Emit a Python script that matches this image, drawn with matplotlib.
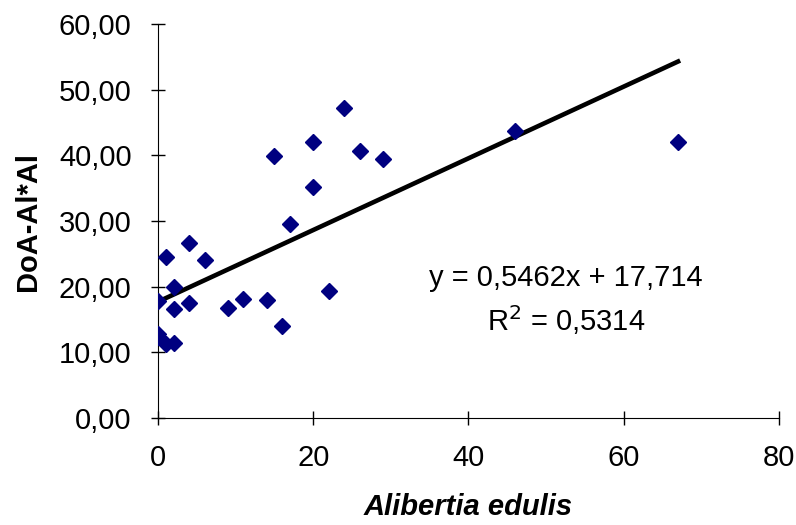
import matplotlib
matplotlib.use('Agg')
import matplotlib.pyplot as plt
import numpy as np

# 데이터
x_vals = [0, 0, 0, 1, 2, 1, 2, 2, 4, 4, 6, 9, 11, 14, 16, 17, 22,
          15, 20, 20, 24, 26, 29, 46, 67]
y_vals = [17.8, 12.8, 12.3, 11.2, 11.4, 24.6, 19.9, 16.6, 26.7, 17.5, 24.0,
          16.8, 18.2, 18.0, 14.0, 29.5, 19.3, 39.9, 42.0, 35.2, 47.3, 40.6,
          39.5, 43.7, 42.0]
slope = 0.5462
intercept = 17.714
r2 = 0.5314

x_ticks = [0, 20, 40, 60, 80]
y_ticks = [0, 10, 20, 30, 40, 50, 60]

plt.rcParams['font.family'] = ['Liberation Sans', 'DejaVu Sans']

fig = plt.figure(figsize=(7.96, 5.25), dpi=100)
ax = fig.add_axes([0.1985, 0.2038, 0.7801, 0.7502])

ax.plot(x_vals, y_vals, linestyle='none', marker='D', markersize=8.5,
        color='#000080', zorder=3)

# 추세선
x_line = np.array([0, max(x_vals)])
ax.plot(x_line, slope * x_line + intercept, color='black', linewidth=3.3, zorder=2)

ax.text(52.6, 21.3, 'y = 0,5462x + 17,714', ha='center', va='center', fontsize=21)
ax.text(52.6, 14.9, 'R$^{2}$ = ' + f'{r2}'.replace('.', ','),
        ha='center', va='center', fontsize=21)

ax.set_xlim(0, 80)
ax.set_ylim(0, 60)
ax.set_xticks(x_ticks)
ax.set_yticks(y_ticks)
ax.set_yticklabels([f'{v:.2f}'.replace('.', ',') for v in y_ticks])
ax.tick_params(direction='inout', length=10, width=1, labelsize=21)
ax.tick_params(axis='y', pad=14)
ax.tick_params(axis='x', pad=14)

for s in ['top', 'right']:
    ax.spines[s].set_visible(False)

ax.set_xlabel('Alibertia edulis', fontsize=21, fontweight='bold', style='italic', labelpad=15)
ax.set_ylabel('DoA-Al*Al', fontsize=21, fontweight='bold', labelpad=12)

fig.savefig('out.png', dpi=100)
